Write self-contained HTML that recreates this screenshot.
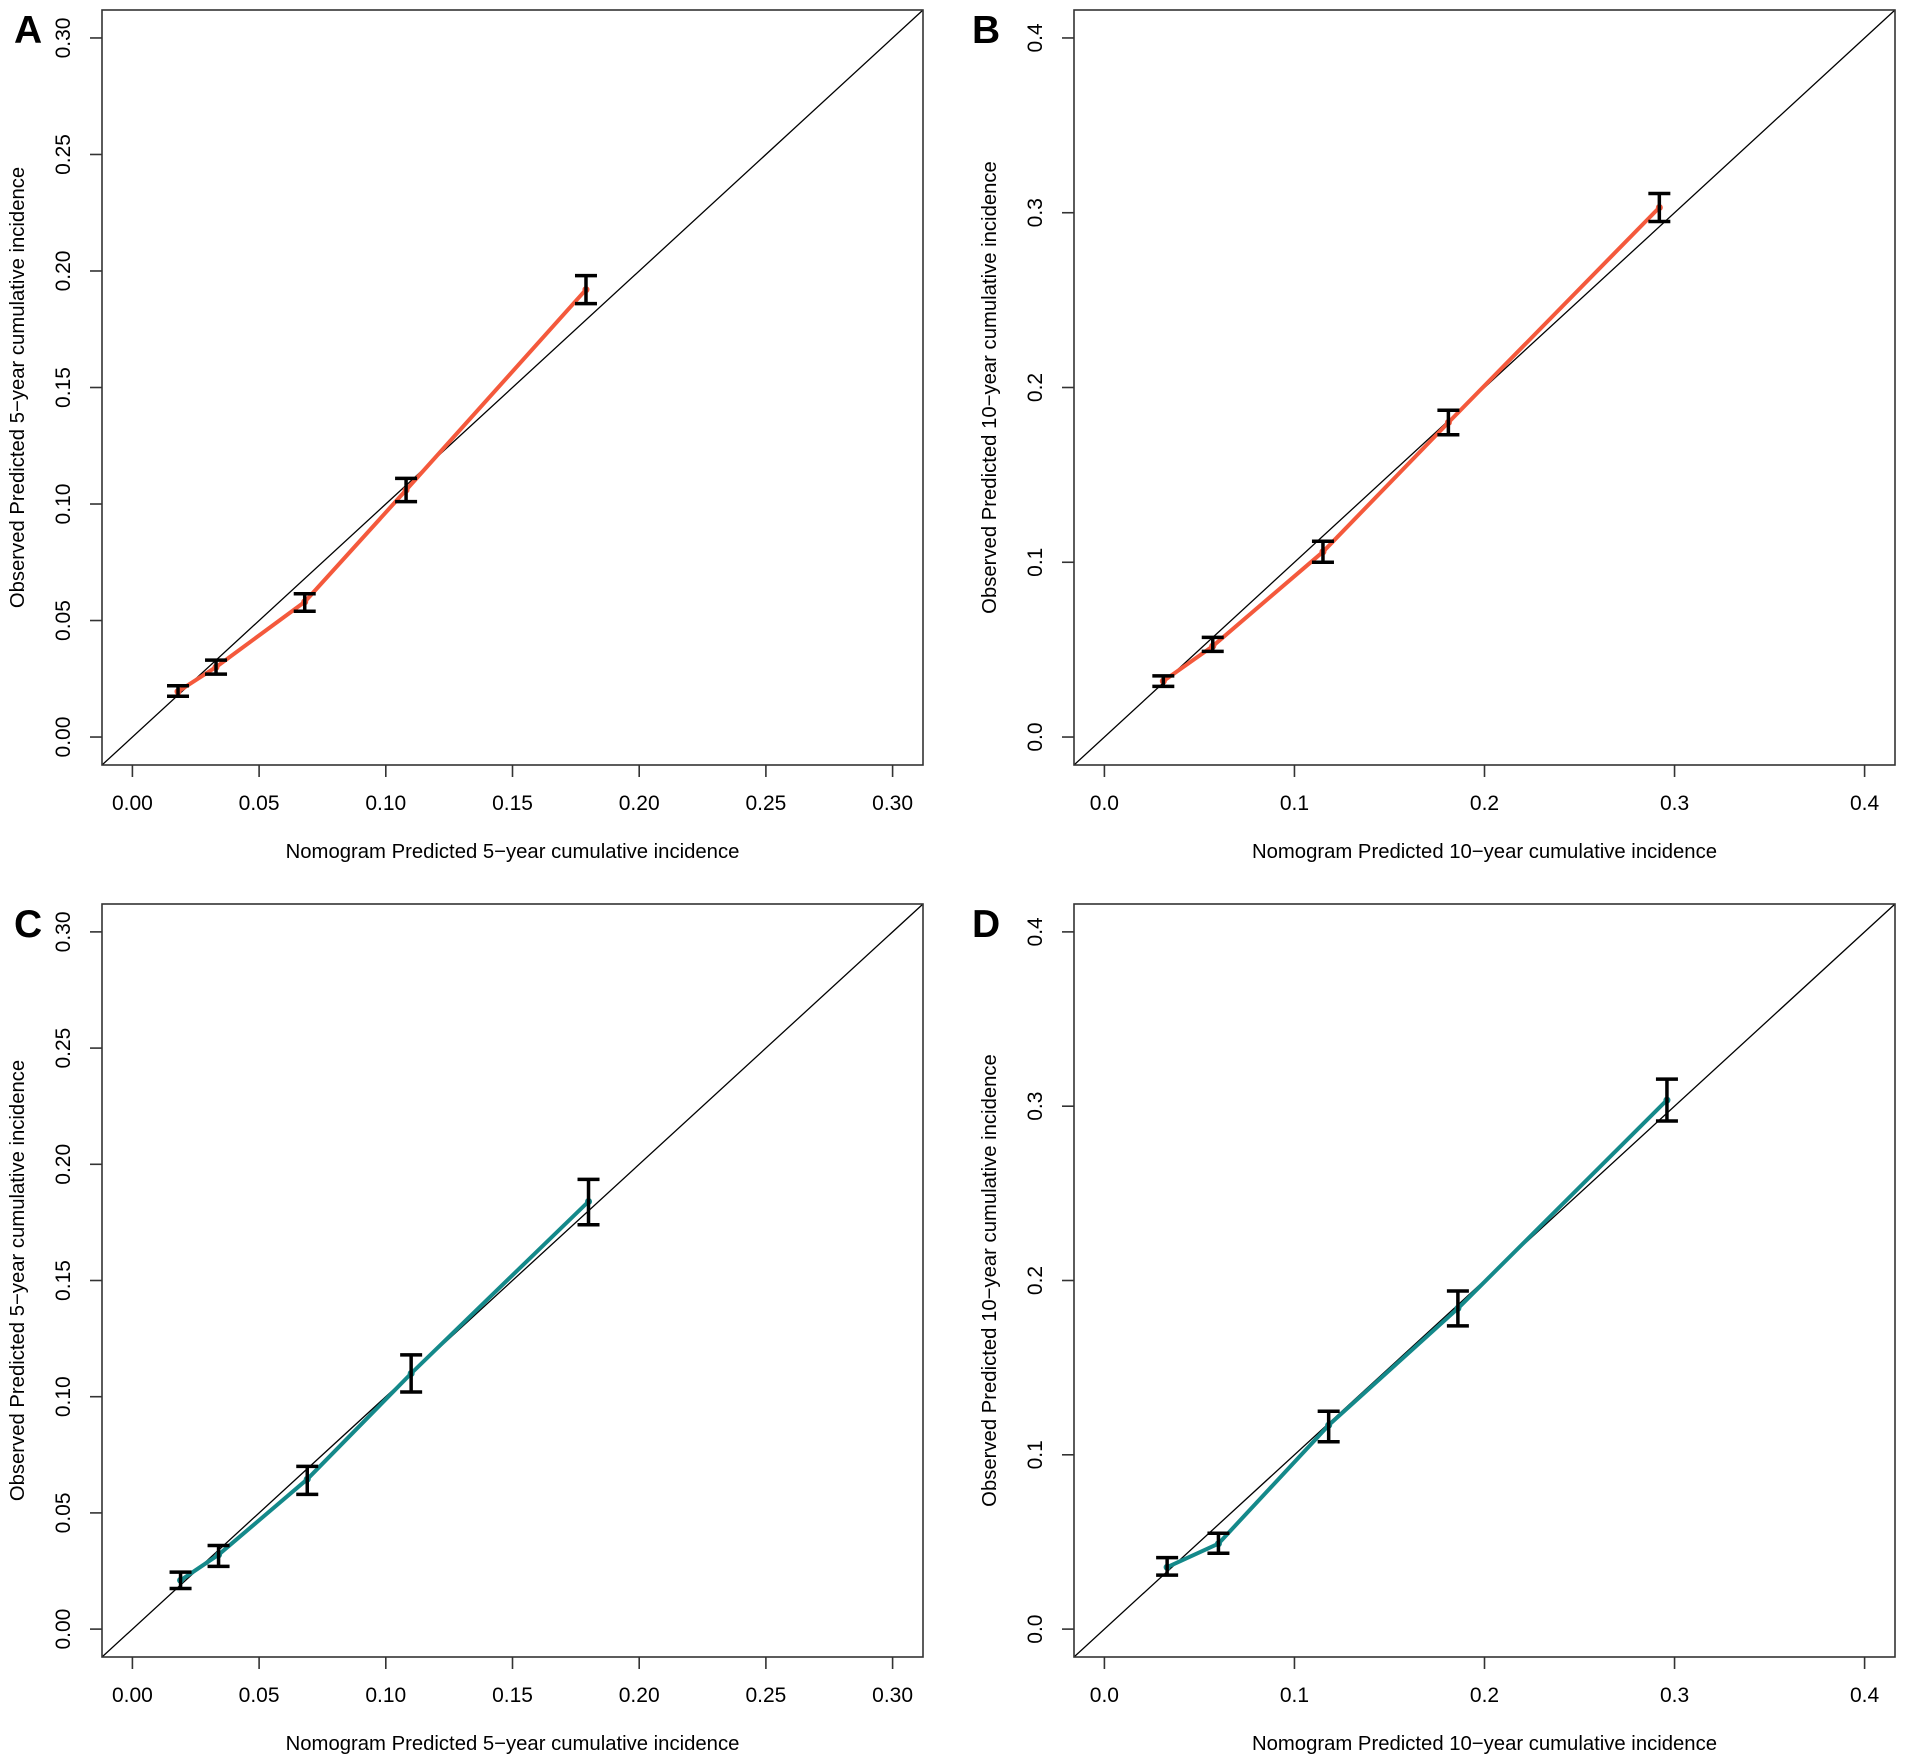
<!DOCTYPE html>
<html><head><meta charset="utf-8"><style>
html,body{margin:0;padding:0;background:#fff}
svg{display:block}
text{font-family:"Liberation Sans",Arial,sans-serif;fill:#000}
</style></head><body>
<svg id="fig" width="1905" height="1764" viewBox="0 0 1905 1764" xmlns="http://www.w3.org/2000/svg"></svg>
<script>
// Panel A: 5-year, red
const predA = [0.018, 0.033, 0.068, 0.108, 0.179];
const obsA  = [0.0195, 0.030, 0.058, 0.106, 0.192];
const loA   = [0.0175, 0.027, 0.054, 0.101, 0.186];
const hiA   = [0.022, 0.033, 0.0615, 0.111, 0.198];
// Panel B: 10-year, red
const predB = [0.031, 0.057, 0.115, 0.181, 0.292];
const obsB  = [0.032, 0.052, 0.106, 0.180, 0.303];
const loB   = [0.029, 0.049, 0.100, 0.173, 0.295];
const hiB   = [0.035, 0.057, 0.112, 0.187, 0.311];
// Panel C: 5-year, teal
const predC = [0.019, 0.034, 0.069, 0.110, 0.180];
const obsC  = [0.021, 0.032, 0.0645, 0.110, 0.184];
const loC   = [0.0175, 0.027, 0.058, 0.102, 0.174];
const hiC   = [0.0245, 0.036, 0.070, 0.118, 0.1935];
// Panel D: 10-year, teal
const predD = [0.033, 0.060, 0.118, 0.186, 0.296];
const obsD  = [0.0355, 0.049, 0.117, 0.184, 0.3035];
const loD   = [0.031, 0.0435, 0.1075, 0.174, 0.2915];
const hiD   = [0.041, 0.055, 0.125, 0.194, 0.3155];
// Tick labels
const ticks5 = ["0.00","0.05","0.10","0.15","0.20","0.25","0.30"];
const ticks10 = ["0.0","0.1","0.2","0.3","0.4"];

const NS = "http://www.w3.org/2000/svg";
const svg = document.getElementById('fig');
function mk(tag, attrs, parent){
  const e = document.createElementNS(NS, tag);
  for (const k in attrs) e.setAttribute(k, attrs[k]);
  (parent||svg).appendChild(e);
  return e;
}

function panel(cfg){
  const {id, letter, L, T, R, B, max, ticks, pred, obs, lo, hi, color, yrs, letterX} = cfg;
  const g = mk('g', {});
  
  
  const ext = max * 0.04;
  const xs = v => L + (v + ext) / (max + 2*ext) * (R - L);
  const ys = v => B - (v + ext) / (max + 2*ext) * (B - T);

  const diag = mk('line', {x1:L, y1:B, x2:R, y2:T, stroke:'#000', 'stroke-width':1.3}, g);
  
  

  const pts = pred.map((p,i)=> xs(p).toFixed(1)+','+ys(obs[i]).toFixed(1)).join(' ');
  const pl = mk('polyline', {points:pts, fill:'none', stroke:color, 'stroke-width':4, 'stroke-linejoin':'round', 'stroke-linecap':'round'}, g);
  
  

  pred.forEach((p,i)=>{
    const cx = xs(p);
    const dot = mk('circle', {cx:cx, cy:ys(obs[i]), r:3.5, fill:color}, g);
    
    
    const eb = mk('g', {stroke:'#000', 'stroke-width':3.5}, g);
    
    
    mk('line', {x1:cx, y1:ys(lo[i]), x2:cx, y2:ys(hi[i])}, eb);
    mk('line', {x1:cx-11, y1:ys(lo[i]), x2:cx+11, y2:ys(lo[i])}, eb);
    mk('line', {x1:cx-11, y1:ys(hi[i]), x2:cx+11, y2:ys(hi[i])}, eb);
  });

  const box = mk('rect', {x:L, y:T, width:R-L, height:B-T, fill:'none', stroke:'#333', 'stroke-width':1.6}, g);
  
  

  const step = max / (ticks.length - 1);
  ticks.forEach((t,i)=>{
    const v = i*step;
    const x = xs(v), y = ys(v);
    mk('line', {x1:x, y1:B, x2:x, y2:B+12, stroke:'#333', 'stroke-width':1.6}, g);
    const xt = mk('text', {x:x, y:B+45, 'font-size':21, 'text-anchor':'middle'}, g);
    xt.textContent = t;
    
    
    mk('line', {x1:L, y1:y, x2:L-12, y2:y, stroke:'#333', 'stroke-width':1.6}, g);
    const yt = mk('text', {x:0, y:0, 'font-size':21, 'text-anchor':'middle', transform:`translate(${L-32},${y}) rotate(-90)`}, g);
    yt.textContent = t;
    
    
  });

  const xtitle = mk('text', {x:(L+R)/2, y:B+93, 'font-size':20.3, 'text-anchor':'middle'}, g);
  xtitle.textContent = `Nomogram Predicted ${yrs}\u2212year cumulative incidence`;
  
  
  const ytitle = mk('text', {x:0, y:0, 'font-size':20.3, 'text-anchor':'middle', transform:`translate(${L-78},${(T+B)/2}) rotate(-90)`}, g);
  ytitle.textContent = `Observed Predicted ${yrs}\u2212year cumulative incidence`;
  
  

  const lt = mk('text', {x:letterX, y:T+33, 'font-size':39, 'font-weight':'bold'}, g);
  lt.textContent = letter;
  
  
}

const red = '#F4593C', teal = '#14898A';
panel({id:'a', letter:'A', L:102, T:10, R:923, B:765, max:0.3, ticks:ticks5, pred:predA, obs:obsA, lo:loA, hi:hiA, color:red, yrs:5, letterX:14});
panel({id:'b', letter:'B', L:1074, T:10, R:1895, B:765, max:0.4, ticks:ticks10, pred:predB, obs:obsB, lo:loB, hi:hiB, color:red, yrs:10, letterX:972});
panel({id:'c', letter:'C', L:102, T:904, R:923, B:1657, max:0.3, ticks:ticks5, pred:predC, obs:obsC, lo:loC, hi:hiC, color:teal, yrs:5, letterX:14});
panel({id:'d', letter:'D', L:1074, T:904, R:1895, B:1657, max:0.4, ticks:ticks10, pred:predD, obs:obsD, lo:loD, hi:hiD, color:teal, yrs:10, letterX:972});
</script>
</body></html>
